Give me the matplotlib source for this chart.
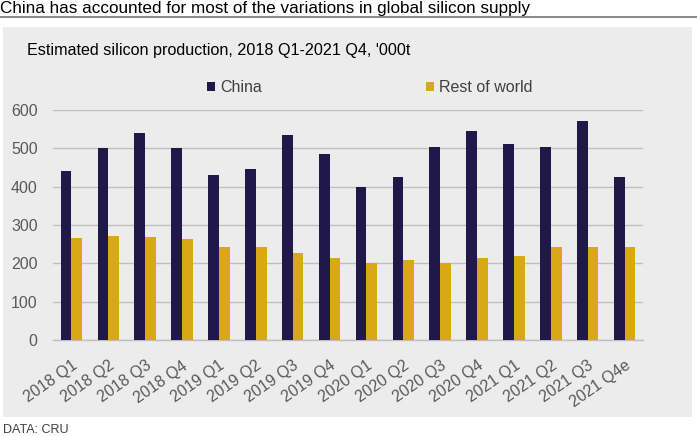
import matplotlib
matplotlib.use("Agg")
import matplotlib.pyplot as plt
from matplotlib.patches import Rectangle
from matplotlib.lines import Line2D
import numpy as np

categories = ["2018 Q1", "2018 Q2", "2018 Q3", "2018 Q4",
              "2019 Q1", "2019 Q2", "2019 Q3", "2019 Q4",
              "2020 Q1", "2020 Q2", "2020 Q3", "2020 Q4",
              "2021 Q1", "2021 Q2", "2021 Q3", "2021 Q4e"]
china = [440, 500, 540, 500, 430, 445, 535, 485,
         400, 426, 504, 544, 511, 504, 570, 426]
rest_of_world = [267, 271, 270, 263, 243, 243, 228, 213,
                 200, 208, 202, 213, 218, 242, 242, 243]
yticks = [0, 100, 200, 300, 400, 500, 600]

plt.rcParams['font.family'] = ['Liberation Sans', 'DejaVu Sans']

W, H = 697, 436
fig = plt.figure(figsize=(W / 100, H / 100), dpi=100)
fig.patch.set_facecolor("white")

# grey panel
fig.patches.append(Rectangle((3 / W, 1 - 417 / H), 689 / W, 390 / H,
                             transform=fig.transFigure, facecolor="#ECECEC",
                             edgecolor="none", zorder=-5))
# title rule
fig.add_artist(Line2D([0, 1], [1 - 17 / H, 1 - 17 / H], transform=fig.transFigure,
                      color="#7F7F7F", lw=1.3))

fig.text(0 / W, 1 - 8 / H, "China has accounted for most of the variations in global silicon supply",
         fontsize=12.3, color="black", ha="left", va="center")
fig.text(27 / W, 1 - 51 / H, "Estimated silicon production, 2018 Q1-2021 Q4, '000t",
         fontsize=11.6, color="black", ha="left", va="center")
fig.text(3 / W, 1 - 430 / H, "DATA: CRU", fontsize=9,
         family=['Liberation Sans Narrow', 'Liberation Sans'], color="#404040",
         ha="left", va="center")

ax = fig.add_axes([53 / W, 1 - 340 / H, 590 / W, 230 / H])
ax.set_facecolor("none")
ax.set_zorder(2)

x = np.arange(len(categories))
w = 0.29
navy = "#1F1848"
gold = "#D9A817"
b1 = ax.bar(x - w / 2, china, width=w, color=navy, label="China", zorder=3)
b2 = ax.bar(x + w / 2, rest_of_world, width=w, color=gold, label="Rest of world", zorder=3)

ax.set_xlim(-0.5, len(categories) - 0.5)
ax.set_ylim(0, 600)
ax.set_yticks(yticks)
ax.set_yticklabels([str(v) for v in yticks])
ax.yaxis.grid(True, color="#BFBFBF", lw=1.0, zorder=0)
ax.set_axisbelow(True)
for s in ["top", "right", "left"]:
    ax.spines[s].set_visible(False)
ax.spines["bottom"].set_color("#BFBFBF")
ax.spines["bottom"].set_linewidth(1.0)
ax.tick_params(axis="y", length=0, pad=11, labelsize=11.5, labelcolor="#595959")
ax.tick_params(axis="x", length=0, pad=13, labelsize=11.5, labelcolor="#595959")
ax.set_xticks(x)
ax.set_xticklabels(categories, rotation=35, ha="right", va="top", rotation_mode="anchor")

leg = fig.legend(handles=[b1, b2], labels=["China", "Rest of world"],
                 loc="center left", bbox_to_anchor=(207 / W, 1 - 88 / H),
                 ncol=2, frameon=False, fontsize=11.5, handlelength=0.5,
                 handleheight=0.5, handletextpad=0.3, columnspacing=10.3,
                 borderpad=0, borderaxespad=0)
for t in leg.get_texts():
    t.set_color("#404040")

fig.savefig("out.png", dpi=100, facecolor="white")
